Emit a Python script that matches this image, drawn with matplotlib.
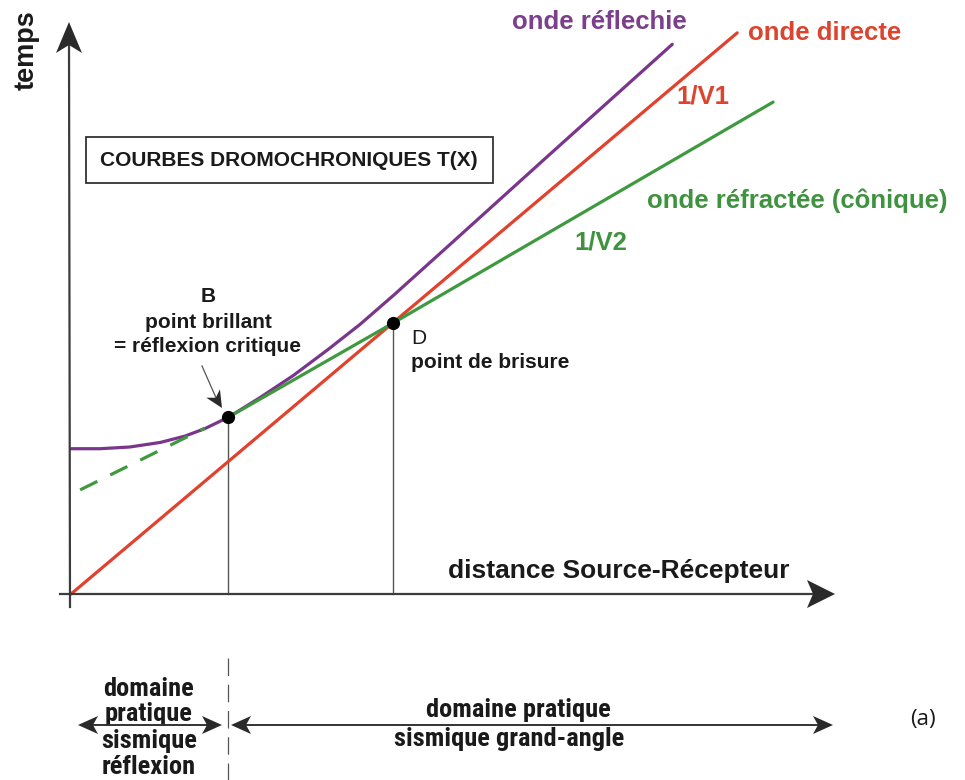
import matplotlib
matplotlib.use("Agg")
import matplotlib.pyplot as plt
from matplotlib.patches import Polygon, Rectangle
from matplotlib import font_manager
import numpy as np

# ---------------- data (distance units / time units) ----------------
direct_x = [0.0, 8.72]
direct_t = [0.0, 9.81]

reflect_x = [0.0, 0.38, 0.77, 1.17, 1.49, 1.75, 2.06, 2.47, 2.91, 3.36, 3.78, 4.22, 4.96, 6.27, 7.87]
reflect_t = [2.54, 2.54, 2.57, 2.65, 2.76, 2.89, 3.09, 3.43, 3.82, 4.27, 4.71, 5.22, 6.11, 7.69, 9.61]

refract_x = [2.06, 4.22, 9.19]
refract_t = [3.09, 4.74, 8.60]

refract_ext_x = [0.12, 1.75]
refract_ext_t = [1.82, 2.90]

point_B = (2.06, 3.09)
point_D = (4.22, 4.74)

labels_wave = ["onde réflechie", "onde directe", "onde réfractée (cônique)"]
slope_labels = ["1/V1", "1/V2"]
title_box = "COURBES DROMOCHRONIQUES T(X)"

# ---------------- styling ----------------
W, H = 965, 780
PURPLE = "#7a358c"
RED = "#e2412d"
GREEN = "#3f9a3f"
PURPLE_T = "#7b3f8c"
RED_T = "#db4530"
GREEN_T = "#3f923f"
DARK = "#2a2a2a"

avail = {f.name for f in font_manager.fontManager.ttflist}
SANS = "Liberation Sans" if "Liberation Sans" in avail else "DejaVu Sans"

# look for a condensed bold face
NARROW, NSTRETCH, NSIZE = SANS, "normal", 16.5
for cand in ["Liberation Sans Narrow", "Arial Narrow", "Roboto Condensed", "Open Sans Condensed"]:
    if cand in avail:
        NARROW, NSTRETCH, NSIZE = cand, "normal", 19
        break
else:
    for f in font_manager.fontManager.ttflist:
        st = str(f.stretch)
        if st in ("condensed", "semi-condensed", "extra-condensed") and f.name in ("DejaVu Sans", "Noto Sans", "Open Sans", "Roboto"):
            NARROW, NSTRETCH, NSIZE = f.name, st, 17.5
            break

fig = plt.figure(figsize=(W / 100, H / 100), dpi=100)
fig.patch.set_facecolor("white")

# main axes: origin at pixel (71, 594), tips at (835, 22)
ax = fig.add_axes([71 / W, (H - 594) / H, 764 / W, 572 / H])
ax.set_xlim(0, 10)
ax.set_ylim(0, 10)
ax.axis("off")

# overlay axes in pixel coordinates for decorations/text
ov = fig.add_axes([0, 0, 1, 1], zorder=5)
ov.set_xlim(0, W)
ov.set_ylim(H, 0)
ov.axis("off")
ov.patch.set_visible(False)


def stealth(tip, d, length, halfw, notch, color=DARK):
    tip = np.array(tip, float)
    d = np.array(d, float)
    d = d / np.hypot(*d)
    perp = np.array([-d[1], d[0]])
    back = tip - d * length
    pts = [tip, back + perp * halfw, tip - d * (length - notch), back - perp * halfw]
    ov.add_patch(Polygon(pts, closed=True, color=color, lw=0, zorder=6))


# axes lines
ov.plot([70, 69], [607, 40], color="#3c3c3c", lw=1.6, zorder=4)
ov.plot([60, 820], [594, 594], color="#3c3c3c", lw=1.6, zorder=4)
stealth((69, 22), (0, -1), 31, 13, 8)
stealth((835, 594), (1, 0), 28, 14, 6)

# vertical guides from B and D
ax.plot([point_B[0], point_B[0]], [0, point_B[1]], color="#555555", lw=1.0, clip_on=False, zorder=2)
ax.plot([point_D[0], point_D[0]], [0, point_D[1]], color="#555555", lw=1.0, clip_on=False, zorder=2)

# curves
ax.plot(direct_x, direct_t, color=RED, lw=2.3, clip_on=False, zorder=3, solid_capstyle="round")
ax.plot(reflect_x, reflect_t, color=PURPLE, lw=2.3, clip_on=False, zorder=3,
        solid_capstyle="round", solid_joinstyle="round")
ax.plot(refract_x, refract_t, color=GREEN, lw=2.3, clip_on=False, zorder=3.5, solid_capstyle="round")
ln, = ax.plot(refract_ext_x, refract_ext_t, color=GREEN, lw=2.3, clip_on=False, zorder=3)
ln.set_dashes([6, 4.5])

# points B and D
ax.plot(*point_B, "o", color="black", ms=8.5, clip_on=False, zorder=5)
ax.plot(*point_D, "o", color="black", ms=8.5, clip_on=False, zorder=5)

# box title
ov.add_patch(Rectangle((86, 137), 407, 46, fill=False, ec="#333333", lw=1.3, zorder=4))
ov.text(100, 161, title_box, fontsize=15, fontweight="bold", family=SANS,
        ha="left", va="center", color="#1a1a1a")

# axis labels
ov.text(27, 50, "temps", fontsize=19.5, fontweight="bold", family=SANS, rotation=90,
        ha="center", va="center", color="#1a1a1a")
ov.text(448, 571, "distance Source-Récepteur", fontsize=19, fontweight="bold", family=SANS,
        ha="left", va="center", color="#1a1a1a")

# wave labels
ov.text(512, 22, labels_wave[0], fontsize=18.5, fontweight="bold", family=SANS,
        ha="left", va="center", color=PURPLE_T)
ov.text(748, 33, labels_wave[1], fontsize=18.5, fontweight="bold", family=SANS,
        ha="left", va="center", color=RED_T)
ov.text(647, 201, labels_wave[2], fontsize=18.5, fontweight="bold", family=SANS,
        ha="left", va="center", color=GREEN_T)
ov.text(676, 97, slope_labels[0], fontsize=18.5, fontweight="bold", family=SANS,
        ha="left", va="center", color=RED_T)
ov.text(574, 242, slope_labels[1], fontsize=18.5, fontweight="bold", family=SANS,
        ha="left", va="center", color=GREEN_T)

# point B annotation
ov.text(208, 297, "B", fontsize=15, fontweight="bold", family=SANS, ha="center", va="center", color="#1a1a1a")
ov.text(208, 322, "point brillant", fontsize=15, fontweight="bold", family=SANS, ha="center", va="center", color="#1a1a1a")
ov.text(207, 347, "= réflexion critique", fontsize=15, fontweight="bold", family=SANS, ha="center", va="center", color="#1a1a1a")
ov.plot([202, 217], [366, 400], color="#555555", lw=0.9, zorder=4)
stealth((222, 408), (19, 31), 17, 8, 5)

# point D annotation
ov.text(411, 338, "D", fontsize=15, family=SANS, ha="left", va="center", color="#1a1a1a")
ov.text(411, 362, "point de brisure", fontsize=15, fontweight="bold", family=SANS,
        ha="left", va="center", color="#1a1a1a")

# bottom domains
dl, = ov.plot([228, 228], [658, 780], color="#555555", lw=0.9, zorder=4)
dl.set_dashes([14, 7])
ov.plot([88, 212], [725, 725], color="#333333", lw=1.4, zorder=4)
stealth((78, 725), (-1, 0), 20, 9, 5)
stealth((222, 725), (1, 0), 20, 9, 5)
ov.plot([240, 823], [725, 725], color="#333333", lw=1.4, zorder=4)
stealth((231, 725), (-1, 0), 20, 9, 5)
stealth((833, 725), (1, 0), 20, 9, 5)

for txt, y in zip(["domaine", "pratique", "sismique", "réflexion"], [689, 714, 741, 767]):
    ov.text(149, y, txt, fontsize=NSIZE, fontweight="bold", family=NARROW, fontstretch=NSTRETCH,
            ha="center", va="center", color="#1a1a1a")
ov.text(518, 710, "domaine pratique", fontsize=NSIZE, fontweight="bold", family=NARROW,
        fontstretch=NSTRETCH, ha="center", va="center", color="#1a1a1a")
ov.text(509, 739, "sismique grand-angle", fontsize=NSIZE, fontweight="bold", family=NARROW,
        fontstretch=NSTRETCH, ha="center", va="center", color="#1a1a1a")
ov.text(923, 720, "(a)", fontsize=16, family="Open Sans", ha="center", va="center", color="#1a1a1a")

fig.savefig("out.png", dpi=100, facecolor="white")
